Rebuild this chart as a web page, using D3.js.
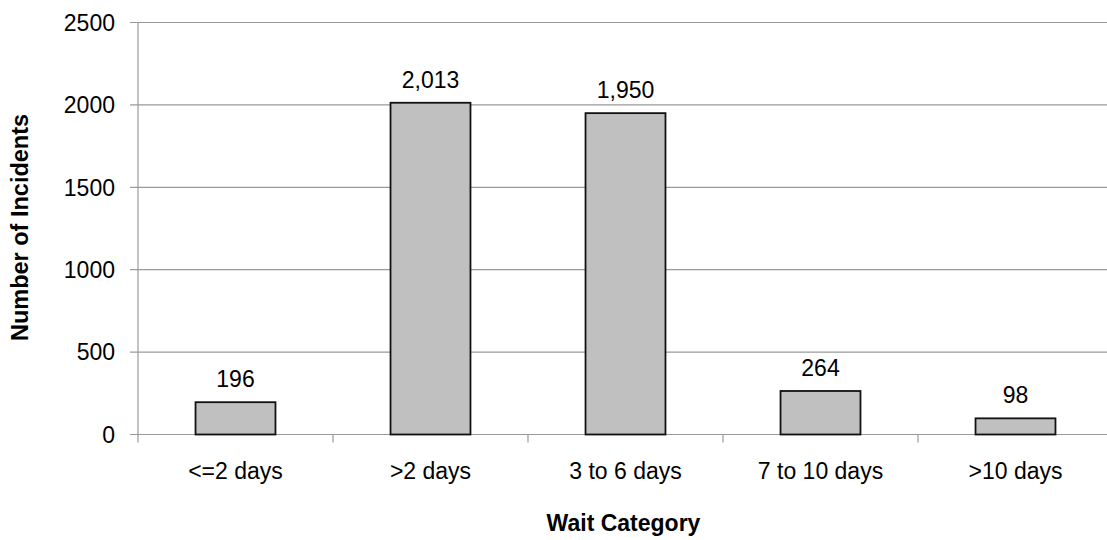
<!DOCTYPE html>
<html><head><meta charset="utf-8">
<script src="https://cdn.jsdelivr.net/npm/d3@7"></script>
<style>body{margin:0;background:#fff}svg{display:block}text{font-family:"Liberation Sans",Arial,sans-serif;fill:#000}</style>
</head><body><svg id="c" width="1107" height="540"></svg>
<script>
const categories = ["<=2 days", ">2 days", "3 to 6 days", "7 to 10 days", ">10 days"];
const values = [196, 2013, 1950, 264, 98];
const yTicks = [0, 500, 1000, 1500, 2000, 2500];
const xTitle = "Wait Category";
const yTitle = "Number of Incidents";

const svg = d3.select("#c");
const pL = 138, pR = 1113, pT = 22.5, pB = 434.5;
const x = d3.scaleBand().domain(categories).range([pL, pR]).paddingInner(0.59).paddingOuter(0.295);
const xc = d3.scaleBand().domain(categories).range([pL, pR]).padding(0);
const y = d3.scaleLinear().domain([0, 2500]).range([pB, pT]);

// gridlines
svg.append("g").selectAll("line").data(yTicks).join("line")
  .attr("x1", 130).attr("x2", pR).attr("y1", d => y(d)).attr("y2", d => y(d))
  .attr("stroke", "#9a9a9a").attr("stroke-width", 1.2);

// y axis line
svg.append("line").attr("x1", pL).attr("x2", pL).attr("y1", pT).attr("y2", pB + 8)
  .attr("stroke", "#9a9a9a").attr("stroke-width", 1.2);

// x category ticks
svg.append("g").selectAll("line").data(categories.slice(1)).join("line")
  .attr("x1", d => xc(d)).attr("x2", d => xc(d)).attr("y1", pB).attr("y2", pB + 8)
  .attr("stroke", "#9a9a9a").attr("stroke-width", 1.2);

// y tick labels
svg.append("g").selectAll("text").data(yTicks).join("text")
  .attr("x", 115).attr("y", d => y(d)).attr("dy", "0.36em").attr("text-anchor", "end")
  .attr("font-size", 23).text(d => d);

// bars
svg.append("g").selectAll("rect").data(values).join("rect")
  .attr("x", (d, i) => x(categories[i])).attr("width", x.bandwidth())
  .attr("y", d => y(d)).attr("height", d => y(0) - y(d))
  .attr("fill", "#c0c0c0").attr("stroke", "#111").attr("stroke-width", 1.8);

// value labels
svg.append("g").selectAll("text").data(values).join("text")
  .attr("x", (d, i) => x(categories[i]) + x.bandwidth() / 2).attr("y", d => y(d) - 15)
  .attr("text-anchor", "middle").attr("font-size", 23).text(d => d3.format(",")(d));

// x tick labels
svg.append("g").selectAll("text").data(categories).join("text")
  .attr("x", d => xc(d) + xc.bandwidth() / 2).attr("y", 479)
  .attr("text-anchor", "middle").attr("font-size", 23).text(d => d);

// axis titles
svg.append("text").attr("x", (pL + pR) / 2 - 2).attr("y", 531).attr("text-anchor", "middle")
  .attr("font-size", 23).attr("font-weight", "bold").text(xTitle);
svg.append("text").attr("transform", `translate(28,${(pT + pB) / 2 - 1}) rotate(-90)`)
  .attr("text-anchor", "middle").attr("font-size", 23.5).attr("font-weight", "bold").text(yTitle);
</script></body></html>
